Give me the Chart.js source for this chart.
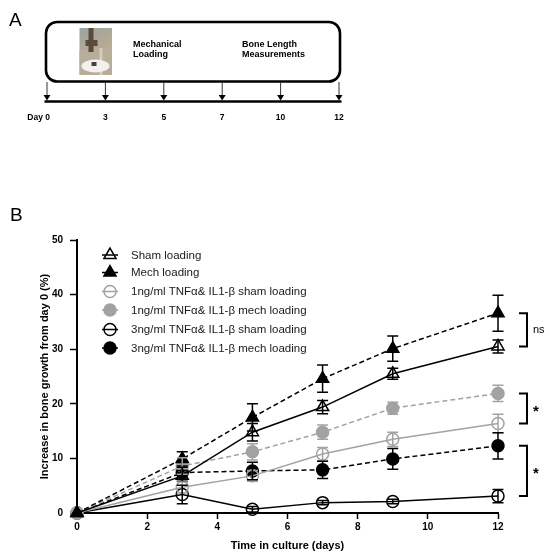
<!DOCTYPE html>
<html>
<head>
<meta charset="utf-8">
<script src="https://cdn.jsdelivr.net/npm/chart.js@4"></script>
<style>
html,body{margin:0;padding:0;background:#fff;}
canvas{display:block;}
</style>
</head>
<body>
<canvas id="c" width="550" height="559"></canvas>
<script>
// ---------- DATA ----------
const days = [0, 3, 5, 7, 9, 12];
const xTicks = [0, 2, 4, 6, 8, 10, 12];
const yTicks = [0, 10, 20, 30, 40, 50];

const shamMean = [0, 6.8, 14.8, 19.4, 25.5, 30.5];
const shamErr  = [0, 1.0, 1.6, 1.2, 1.0, 1.2];
const mechMean = [0, 9.9, 17.5, 24.6, 30.1, 36.6];
const mechErr  = [0, 1.3, 2.5, 2.5, 2.3, 3.3];
const sham1Mean = [0, 4.7, 6.8, 10.8, 13.5, 16.4];
const sham1Err  = [0, 1.0, 1.0, 1.2, 1.3, 1.7];
const mech1Mean = [0, 8.6, 11.2, 14.8, 19.2, 21.9];
const mech1Err  = [0, 1.5, 1.5, 1.3, 1.1, 1.5];
const sham3Mean = [0, 3.4, 0.7, 1.9, 2.1, 3.1];
const sham3Err  = [0, 1.7, 0.5, 0.4, 0.4, 1.2];
const mech3Mean = [0, 7.4, 7.7, 7.9, 9.9, 12.3];
const mech3Err  = [0, 1.0, 1.6, 1.6, 1.9, 2.4];

const seriesLabels = [
  'Sham loading',
  'Mech loading',
  '1ng/ml TNFα& IL1-β sham loading',
  '1ng/ml TNFα& IL1-β mech loading',
  '3ng/ml TNFα& IL1-β sham loading',
  '3ng/ml TNFα& IL1-β mech loading'
];

// significance brackets: [series index a, series index b, label]
const brackets = [[1, 0, 'ns'], [3, 2, '*'], [5, 4, '*']];

// panel A timeline
const timelineLabels = ['Day 0', '3', '5', '7', '10', '12'];
const timelineText = [['Mechanical', 'Loading'], ['Bone Length', 'Measurements']];

// ---------- STYLE ----------
const FONT = '"Liberation Sans", Arial, Helvetica, sans-serif';
const BLACK = '#000000';
const GREY = '#a2a2a2';
const styles = [
  {shape: 'triangle', r: 7, color: BLACK, fill: false, dash: []},
  {shape: 'triangle', r: 7, color: BLACK, fill: true, dash: [5, 3]},
  {shape: 'circle', r: 6, color: GREY, fill: false, dash: []},
  {shape: 'circle', r: 6, color: GREY, fill: true, dash: [5, 3]},
  {shape: 'circle', r: 6, color: BLACK, fill: false, dash: []},
  {shape: 'circle', r: 6, color: BLACK, fill: true, dash: [5, 3]}
];
const means = [shamMean, mechMean, sham1Mean, mech1Mean, sham3Mean, mech3Mean];
const errs = [shamErr, mechErr, sham1Err, mech1Err, sham3Err, mech3Err];

const datasets = means.map((m, i) => ({
  label: seriesLabels[i],
  data: days.map((d, j) => ({x: d, y: m[j]})),
  errors: errs[i],
  borderColor: styles[i].color,
  backgroundColor: styles[i].fill ? styles[i].color : 'rgba(0,0,0,0)',
  pointBackgroundColor: styles[i].fill ? styles[i].color : 'rgba(0,0,0,0)',
  pointBorderColor: styles[i].color,
  pointStyle: styles[i].shape,
  pointRadius: styles[i].r,
  pointBorderWidth: 1.5,
  borderWidth: 1.5,
  borderDash: styles[i].dash,
  tension: 0,
  fill: false,
  clip: false
}));

// ---------- PLUGINS ----------
const errorBars = {
  id: 'errorBars',
  afterDatasetsDraw(chart) {
    const ctx = chart.ctx, xs = chart.scales.x, ys = chart.scales.y;
    chart.data.datasets.forEach(ds => {
      ctx.save();
      ctx.strokeStyle = ds.borderColor;
      ctx.lineWidth = 1.5;
      ctx.setLineDash([]);
      ds.data.forEach((p, j) => {
        const e = ds.errors[j];
        if (!e) return;
        const x = xs.getPixelForValue(p.x);
        const y1 = ys.getPixelForValue(p.y - e);
        const y2 = ys.getPixelForValue(p.y + e);
        ctx.beginPath();
        ctx.moveTo(x, y1); ctx.lineTo(x, y2);
        ctx.moveTo(x - 5.5, y1); ctx.lineTo(x + 5.5, y1);
        ctx.moveTo(x - 5.5, y2); ctx.lineTo(x + 5.5, y2);
        ctx.stroke();
      });
      ctx.restore();
    });
  }
};

const customLegend = {
  id: 'customLegend',
  afterDraw(chart) {
    const ctx = chart.ctx;
    const rows = [255, 272.5, 291.5, 310, 329.5, 348];
    chart.data.datasets.forEach((ds, i) => {
      const y = rows[i], x = 110;
      ctx.save();
      ctx.strokeStyle = ds.borderColor;
      ctx.lineWidth = 1.5;
      ctx.setLineDash([]);
      ctx.beginPath();
      ctx.moveTo(x - 8, y); ctx.lineTo(x + 8, y);
      ctx.stroke();
      ctx.fillStyle = ds.pointBackgroundColor;
      ctx.strokeStyle = ds.pointBorderColor;
      Chart.helpers.drawPoint(ctx, {pointStyle: ds.pointStyle, radius: ds.pointRadius, rotation: 0, borderWidth: 1.5}, x, y);
      ctx.fillStyle = '#1a1a1a';
      ctx.font = '11.5px ' + FONT;
      ctx.textAlign = 'left';
      ctx.textBaseline = 'middle';
      ctx.fillText(ds.label, 131, y + 0.5);
      ctx.restore();
    });
  }
};

const sigBrackets = {
  id: 'sigBrackets',
  afterDraw(chart) {
    const ctx = chart.ctx, ys = chart.scales.y;
    const last = days.length - 1;
    brackets.forEach(([a, b, lab]) => {
      const yA = ys.getPixelForValue(means[a][last]);
      const yB = ys.getPixelForValue(means[b][last]);
      const x = 527;
      ctx.save();
      ctx.strokeStyle = '#000';
      ctx.lineWidth = 2;
      ctx.beginPath();
      ctx.moveTo(519, yA); ctx.lineTo(x, yA); ctx.lineTo(x, yB); ctx.lineTo(519, yB);
      ctx.stroke();
      ctx.fillStyle = '#000';
      ctx.textAlign = 'left';
      ctx.textBaseline = 'middle';
      if (lab === '*') {
        ctx.font = 'bold 15px ' + FONT;
        ctx.fillText(lab, 533, (yA + yB) / 2 + 3);
      } else {
        ctx.font = '11px ' + FONT;
        ctx.fillText(lab, 533, (yA + yB) / 2);
      }
      ctx.restore();
    });
  }
};

const panels = {
  id: 'panels',
  afterDraw(chart) {
    const ctx = chart.ctx;
    ctx.save();
    // panel letters
    ctx.fillStyle = '#000';
    ctx.font = '19px ' + FONT;
    ctx.textAlign = 'left';
    ctx.textBaseline = 'alphabetic';
    ctx.fillText('A', 9, 26);
    ctx.fillText('B', 10, 221);

    // rounded box
    ctx.lineWidth = 2.6;
    ctx.strokeStyle = '#000';
    ctx.beginPath();
    ctx.roundRect(46, 22, 294, 59.5, 11);
    ctx.stroke();

    // photo placeholder
    const px = 79.5, py = 28, pw = 32.5, ph = 47;
    let g = ctx.createLinearGradient(px, py, px + pw, py + ph);
    g.addColorStop(0, '#9aa3a4');
    g.addColorStop(0.5, '#b7aa94');
    g.addColorStop(1, '#c9b9a0');
    ctx.fillStyle = g;
    ctx.fillRect(px, py, pw, ph);
    ctx.fillStyle = '#b8ad9a';
    ctx.fillRect(px, py + 22, pw, ph - 22);
    ctx.fillStyle = '#5a4a3c';
    ctx.fillRect(px + 9, py, 5, 24);
    ctx.fillRect(px + 6, py + 12, 12, 6);
    ctx.fillStyle = '#d8cdb8';
    ctx.fillRect(px + 20, py + 20, 3, 27);
    ctx.fillStyle = '#f1f1ee';
    ctx.beginPath();
    ctx.ellipse(px + 16, py + 38, 14, 6.5, 0, 0, Math.PI * 2);
    ctx.fill();
    ctx.fillStyle = '#4a4038';
    ctx.fillRect(px + 12, py + 34, 5, 4);

    // box text
    ctx.fillStyle = '#000';
    ctx.font = 'bold 9px ' + FONT;
    ctx.textBaseline = 'alphabetic';
    timelineText[0].forEach((t, k) => ctx.fillText(t, 133, 47 + k * 9.5));
    timelineText[1].forEach((t, k) => ctx.fillText(t, 242, 47 + k * 9.5));

    // timeline
    const x0 = 47, x1 = 339, n = timelineLabels.length;
    ctx.lineWidth = 2.6;
    ctx.beginPath();
    ctx.moveTo(44.5, 101.5); ctx.lineTo(341.5, 101.5);
    ctx.stroke();
    timelineLabels.forEach((lab, i) => {
      const x = x0 + (x1 - x0) * i / (n - 1);
      ctx.strokeStyle = '#333';
      ctx.lineWidth = 1;
      ctx.beginPath();
      ctx.moveTo(x, 82); ctx.lineTo(x, 96);
      ctx.stroke();
      ctx.fillStyle = '#000';
      ctx.beginPath();
      ctx.moveTo(x - 3.5, 95); ctx.lineTo(x + 3.5, 95); ctx.lineTo(x, 100.5);
      ctx.closePath();
      ctx.fill();
      ctx.font = 'bold 8.5px ' + FONT;
      ctx.textBaseline = 'middle';
      if (i === 0) { ctx.textAlign = 'right'; ctx.fillText(lab, x + 3, 118); }
      else { ctx.textAlign = 'center'; ctx.fillText(lab, x, 118); }
    });
    ctx.restore();
  }
};

// ---------- CHART ----------
new Chart(document.getElementById('c'), {
  type: 'line',
  data: {datasets},
  options: {
    responsive: false,
    animation: false,
    events: [],
    layout: {padding: {top: 240, right: 52, left: 0, bottom: 0}},
    scales: {
      x: {
        type: 'linear', min: xTicks[0], max: xTicks[xTicks.length - 1],
        afterBuildTicks: s => { s.ticks = xTicks.map(v => ({value: v})); },
        afterFit: s => { s.height = 46; },
        ticks: {color: '#000', font: {family: FONT, size: 10, weight: 'bold'}, padding: 2, maxRotation: 0},
        grid: {display: true, drawOnChartArea: false, tickLength: 6, tickWidth: 1.5, tickColor: '#000'},
        border: {color: '#000', width: 2},
        title: {display: true, text: 'Time in culture (days)', color: '#000',
                font: {family: FONT, size: 11, weight: 'bold'}, padding: {top: 0, bottom: 6}}
      },
      y: {
        type: 'linear', min: yTicks[0], max: yTicks[yTicks.length - 1],
        afterBuildTicks: s => { s.ticks = yTicks.map(v => ({value: v})); },
        afterFit: s => { s.width = 77; },
        ticks: {color: '#000', font: {family: FONT, size: 10, weight: 'bold'}, padding: 7},
        grid: {display: true, drawOnChartArea: false, tickLength: 7, tickWidth: 1.5, tickColor: '#000'},
        border: {color: '#000', width: 2},
        title: {display: true, text: 'Increase in bone growth from day 0 (%)', color: '#000',
                font: {family: FONT, size: 11, weight: 'bold'}, padding: {top: 38, bottom: 0}}
      }
    },
    plugins: {legend: {display: false}, tooltip: {enabled: false}}
  },
  plugins: [errorBars, customLegend, sigBrackets, panels]
});
</script>
</body>
</html>
